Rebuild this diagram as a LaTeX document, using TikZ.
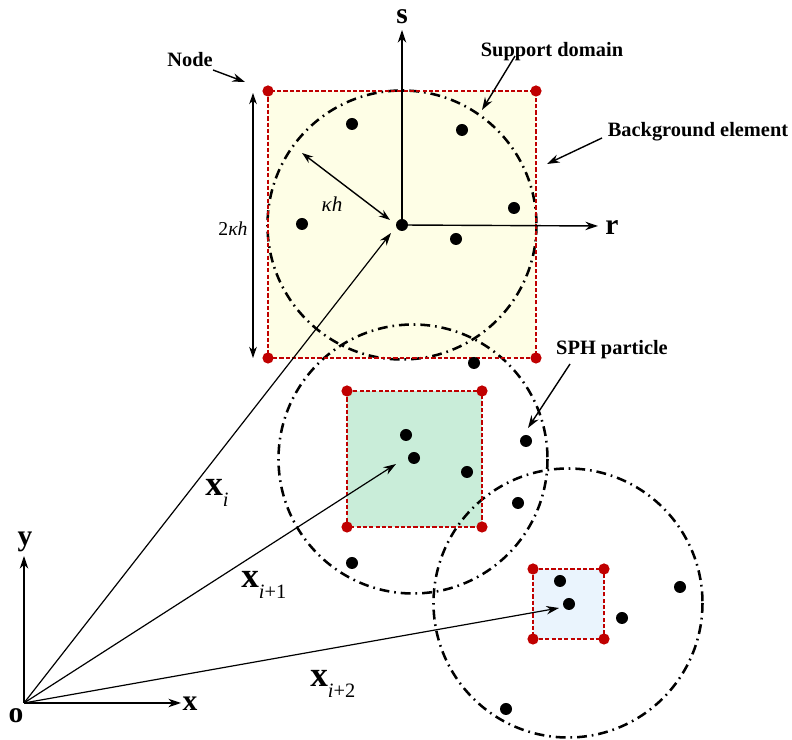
\documentclass[tikz,border=0pt]{standalone}
\usepackage{fontspec}
\setmainfont{Liberation Serif}
\usetikzlibrary{arrows.meta}
\definecolor{elemA}{HTML}{FEFEE6}
\definecolor{elemB}{HTML}{C9EDD9}
\definecolor{elemC}{HTML}{EAF4FD}
\definecolor{nodered}{HTML}{C00000}
\tikzset{
  bgedge/.style={draw=nodered, line width=0.8pt, dash pattern=on 3pt off 1.5pt},
  support/.style={line width=1.8pt, dash pattern=on 7pt off 3.5pt on 1.2pt off 3.5pt},
  particle/.style={circle, fill=black, inner sep=0pt, minimum size=0.3cm},
  gridpt/.style={circle, fill=nodered, inner sep=0pt, minimum size=0.28cm},
  axis/.style={-{Stealth[length=9pt, width=6pt]}, line width=1pt},
  vec/.style={-{Stealth[length=9pt, width=6pt]}, line width=0.85pt},
  dimline/.style={{Stealth[length=8pt, width=5.5pt]}-{Stealth[length=8pt, width=5.5pt]},
    line width=1pt},
  pointer/.style={-{Stealth[length=9pt, width=6pt]}, line width=1pt},
  callout/.style={font=\fontsize{14.5}{17}\selectfont\bfseries},
  axlabel/.style={font=\fontsize{21}{24}\selectfont\bfseries},
  veclabel/.style={anchor=base west, inner sep=0pt, font=\fontsize{25}{28}\selectfont},
}
\newcommand{\xsub}[1]{\textbf{x}\raisebox{-0.3em}{\fontsize{14.5}{14}\selectfont #1}}

\begin{document}
\begin{tikzpicture}[x=0.025cm, y=-0.025cm]
\useasboundingbox (0,0) rectangle (792,740);

%% ---- background elements ------------------------------------------------
\foreach \e/\xa/\ya/\xb/\yb/\c in
    {A/268/91/536/358/elemA, B/347/391/482/527/elemB, C/533/569/604/639/elemC}
  \fill[\c] (\xa,\ya) rectangle (\xb,\yb);

% support domains, radius kappa h
\foreach \cx/\cy in {402/225, 413/459, 568/603}
  \draw[support] (\cx,\cy) circle (134.5);

\foreach \e/\xa/\ya/\xb/\yb in
    {A/268/91/536/358, B/347/391/482/527, C/533/569/604/639} {
  \draw[bgedge] (\xa,\ya) rectangle (\xb,\yb);
  \node[gridpt] (\e1) at (\xa,\ya) {};
  \node[gridpt] (\e2) at (\xb,\ya) {};
  \node[gridpt] (\e3) at (\xb,\yb) {};
  \node[gridpt] (\e4) at (\xa,\yb) {};
}

%% ---- SPH particles ------------------------------------------------------
\node[particle] (c0) at (402,225) {};
\node[particle] (c1) at (414,458) {};
\node[particle] (c2) at (569,604) {};
\foreach \px/\py [count=\i] in
    {352/124, 462/130, 514/208, 302/224, 456/239, 474/363, 406/435, 467/472,
     526/441, 518/503, 352/563, 560/581, 622/618, 680/587, 506/709}
  \node[particle] (p\i) at (\px,\py) {};

%% ---- local frame (r,s) --------------------------------------------------
\coordinate (sTip) at (402,30);
\coordinate (rTip) at (598,226);
\draw[axis] (c0.center) -- (sTip);
\draw[axis] (c0.center) -- (rTip);
\node[axlabel] (sLab) at (402,17) {s};
\node[axlabel] (rLab) at (612,228) {r};

% radius and element size
\coordinate (kStart) at (302,153);
\coordinate (kEnd) at (390,220);
\draw[dimline] (kStart) -- (kEnd);
\node[font=\fontsize{15}{17}\selectfont\itshape] (kLab) at (332,204) {κh};
\coordinate (dTop) at (253,93);
\coordinate (dBot) at (253,358);
\draw[dimline] (dTop) -- (dBot);
\node[font=\fontsize{14}{17}\selectfont] (dLab) at (233,229) {2\textit{κh}};

%% ---- global frame and position vectors ----------------------------------
\coordinate (O) at (24,703);
\coordinate (xTip) at (181,703);
\coordinate (yTip) at (24,556);
\draw[axis] (O) -- (xTip);
\draw[axis] (O) -- (yTip);
\node[axlabel] (xLab) at (190,704) {x};
\node[axlabel] (yLab) at (25,542) {y};
\node[axlabel] (oLab) at (16,716) {o};

\coordinate (tipA) at (391,233);
\coordinate (tipB) at (396,464);
\coordinate (tipC) at (559,608);
\draw[vec] (O) -- (tipA);
\draw[vec] (O) -- (tipB);
\draw[vec] (O) -- (tipC);
\node[veclabel] (vA) at (205,496) {\xsub{\textit{i}}};
\node[veclabel] (vB) at (241,588) {\xsub{\textit{i}+1}};
\node[veclabel] (vC) at (310,687) {\xsub{\textit{i}+2}};

%% ---- callouts -----------------------------------------------------------
\node[callout] (nodeLab) at (190,60) {Node};
\node[callout] (suppLab) at (552,52) {Support domain};
\node[callout] (elemLab) at (698,132) {Background element};
\node[callout] (sphLab) at (612,350) {SPH particle};
\coordinate (nodeFrom) at (213,70);
\coordinate (suppFrom) at (515,56);
\coordinate (elemFrom) at (602,138);
\coordinate (sphFrom) at (570,364);
\coordinate (nodeTo) at (245,82);
\coordinate (suppTo) at (482,110);
\coordinate (elemTo) at (547,164);
\coordinate (sphTo) at (528,428);
\draw[pointer] (nodeFrom) -- (nodeTo);
\draw[pointer] (suppFrom) -- (suppTo);
\draw[pointer] (elemFrom) -- (elemTo);
\draw[pointer] (sphFrom) -- (sphTo);

\end{tikzpicture}
\end{document}
